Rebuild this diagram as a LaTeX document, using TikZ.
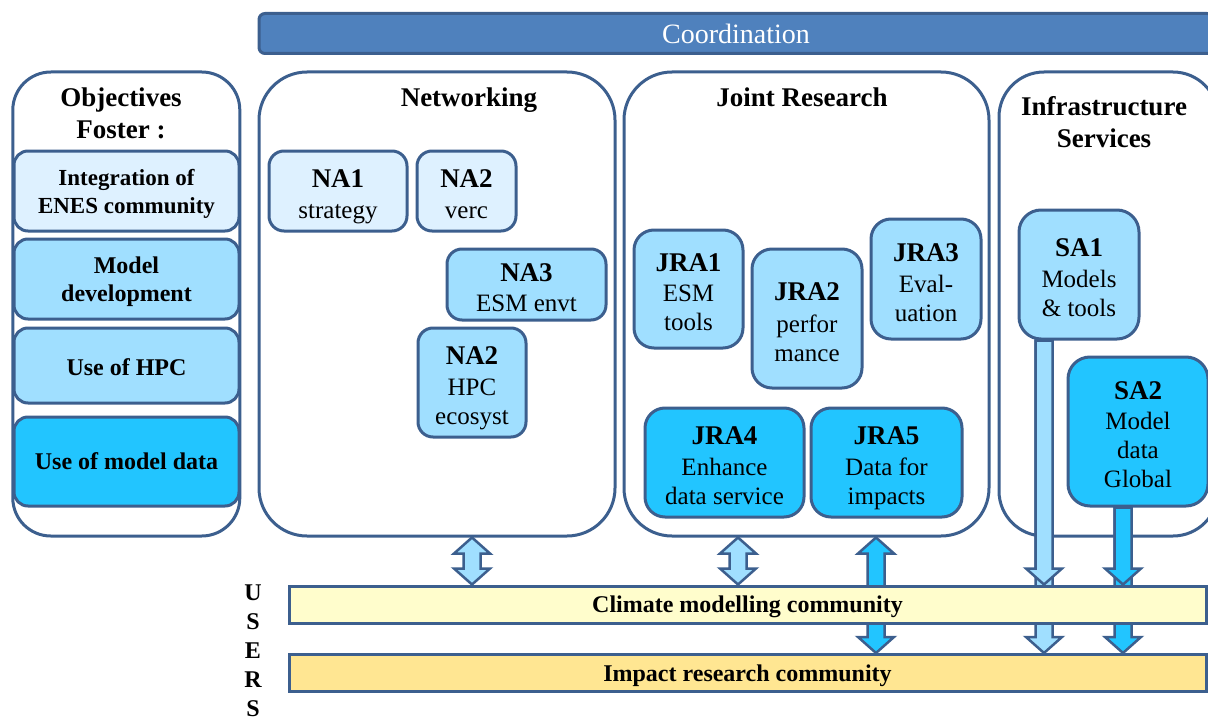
\documentclass[tikz,border=0pt]{standalone}
\usepackage{fontspec}
\setmainfont{Liberation Serif}
\usetikzlibrary{calc}

\definecolor{bordc}{RGB}{60,95,142}
\definecolor{coordfill}{RGB}{79,129,189}
\definecolor{paleblue}{RGB}{222,241,255}
\definecolor{lightblue}{RGB}{160,223,255}
\definecolor{brightblue}{RGB}{34,197,255}
\definecolor{climfill}{RGB}{255,253,204}
\definecolor{impfill}{RGB}{255,230,146}

% bold first line inside a tile (the strut lowers the text block a little)
\newcommand\lb[1]{{\fontsize{27}{29}\selectfont\bfseries\rule{0pt}{24pt}#1}}

% vertical block arrow with heads at both ends
\newcommand\dblarrow[3]{%
  \draw[blockline, fill=#1] let \p1=#2, \p2=#3 in
    (\x1,\y1) -- (\x1+18pt,\y1-16pt) -- (\x1+8.5pt,\y1-16pt)
    -- (\x1+8.5pt,\y2+16pt) -- (\x1+18pt,\y2+16pt) -- (\x1,\y2)
    -- (\x1-18pt,\y2+16pt) -- (\x1-8.5pt,\y2+16pt)
    -- (\x1-8.5pt,\y1-16pt) -- (\x1-18pt,\y1-16pt) -- cycle;}
% vertical block arrow pointing down
\newcommand\downblock[3]{%
  \draw[blockline, fill=#1] let \p1=#2, \p2=#3 in
    (\x1-8.5pt,\y1) -- (\x1+8.5pt,\y1)
    -- (\x1+8.5pt,\y2+16pt) -- (\x1+18pt,\y2+16pt) -- (\x1,\y2)
    -- (\x1-18pt,\y2+16pt) -- (\x1-8.5pt,\y2+16pt) -- cycle;}

\tikzset{
  frame/.style={draw=bordc, line width=3pt, fill=white, rounded corners=48pt,
    inner sep=0pt},
  title/.style={align=center, inner sep=0pt, text depth=0pt,
    font=\fontsize{27}{32}\selectfont\bfseries},
  tile/.style={draw=bordc, line width=3pt, rounded corners=15pt, align=center,
    inner sep=0pt, text depth=0pt, font=\fontsize{25}{29}\selectfont},
  bigtile/.style={tile, rounded corners=20pt},
  goal/.style={draw=bordc, line width=3pt, rounded corners=14pt, align=center,
    inner sep=0pt, text depth=0pt, minimum width=225pt,
    font=\fontsize{24}{28}\selectfont\bfseries},
  bar/.style={draw=bordc, line width=3pt, inner sep=0pt, text depth=0pt,
    minimum width=917pt, minimum height=37pt,
    font=\fontsize{24}{28}\selectfont\bfseries},
  blockline/.style={draw=bordc, line width=2.5pt, line join=miter},
}

\begin{document}
\begin{tikzpicture}[x=1pt, y=-1pt]
\useasboundingbox (0,0) rectangle (1208,717);
\clip (0,0) rectangle (1208,717);

% coordination banner
\node[draw=bordc, line width=3pt, fill=coordfill, rounded corners=6pt,
  minimum width=954pt, minimum height=40pt, inner sep=0pt, text=white,
  font=\fontsize{28}{32}\selectfont] (coord) at (736,33.5) {Coordination};

% column frames
\node[frame, rounded corners=38pt, minimum width=227pt, minimum height=464pt]
  (obj) at (126.3,304) {};
\node[frame, minimum width=356pt, minimum height=464pt] (net) at (437,304) {};
\node[frame, minimum width=365pt, minimum height=464pt] (jra) at (806.5,304) {};
\node[frame, rounded corners=45pt, minimum width=219pt, minimum height=464pt]
  (infra) at (1108.5,304) {};

% column titles
\node[title] (objt) at (121,113) {Objectives\\Foster :};
\node[title] (nett) at (469,97) {Networking};
\node[title] (jrat) at (802,97) {Joint Research};
\node[title] (infrat) at (1104,122) {Infrastructure\\Services};

% objectives
\node[goal, fill=paleblue, minimum height=80pt,
  font=\fontsize{23}{28}\selectfont\bfseries] (goal1) at (126.5,191)
  {Integration of\\ENES community};
\node[goal, fill=lightblue, minimum height=80pt] (goal2) at (126.5,279)
  {Model\\development};
\node[goal, fill=lightblue, minimum height=75pt] (goal3) at (126.5,365.5)
  {\rule{0pt}{20pt}Use of HPC};
\node[goal, fill=brightblue, minimum height=89pt] (goal4) at (126.5,461.5)
  {Use of model data};

% networking activities
\node[tile, fill=paleblue, minimum width=138pt, minimum height=80pt]
  (na1) at (338,191) {\lb{NA1}\\[1.5pt]strategy};
\node[tile, fill=paleblue, minimum width=99pt, minimum height=80pt]
  (na2) at (466.5,191) {\lb{NA2}\\[1.5pt]verc};
\node[tile, fill=lightblue, minimum width=159pt, minimum height=71pt]
  (na3) at (526.5,284.5) {\lb{NA3}\\[1.5pt]ESM envt};
\node[tile, fill=lightblue, minimum width=108pt, minimum height=109pt]
  (na2b) at (472,382.5) {\lb{NA2}\\[1.5pt]HPC\\ecosyst};

% joint research activities
\node[bigtile, fill=lightblue, minimum width=109pt, minimum height=118pt]
  (jra1) at (688.5,289) {\lb{JRA1}\\[1.5pt]ESM\\tools};
\node[bigtile, fill=lightblue, minimum width=110pt, minimum height=139pt]
  (jra2) at (807,318.5) {\lb{JRA2}\\[3pt]perfor\\mance};
\node[bigtile, fill=lightblue, minimum width=110pt, minimum height=120pt]
  (jra3) at (926,279) {\lb{JRA3}\\[2pt]Eval-\\uation};
\node[bigtile, fill=brightblue, minimum width=159pt, minimum height=109pt]
  (jra4) at (724.5,462.5) {\lb{JRA4}\\[1.5pt]Enhance\\data service};
\node[bigtile, fill=brightblue, minimum width=151pt, minimum height=109pt]
  (jra5) at (886.5,462.5) {\lb{JRA5}\\[1.5pt]Data for\\impacts};

% service activities
\node[bigtile, rounded corners=22pt, fill=lightblue, minimum width=120pt,
  minimum height=129pt] (sa1) at (1079,274.5) {\lb{SA1}\\[1.5pt]Models\\\& tools};
\node[bigtile, rounded corners=22pt, fill=brightblue, minimum width=140pt,
  minimum height=149pt] (sa2) at (1138,431.5) {\lb{SA2}\\[1.5pt]Model\\data\\Global};

% user communities and the links passing behind the upper bar
\node[bar, fill=impfill] (impact) at (747.5,673) {Impact research community};
\dblarrow{brightblue}{(876,0|-jra.south)}{(876,0|-impact.north)}
\downblock{lightblue}{(1044,0|-sa1.south)}{(1044,0|-impact.north)}
\downblock{brightblue}{(1123,0|-sa2.south)}{(1123,0|-impact.north)}

\node[bar, fill=climfill] (climate) at (747.5,604.5) {Climate modelling community};
\dblarrow{lightblue}{(472,0|-net.south)}{(472,0|-climate.north)}
\dblarrow{lightblue}{(738,0|-jra.south)}{(738,0|-climate.north)}
\downblock{lightblue}{(1044,0|-sa1.south)}{(1044,0|-climate.north)}
\downblock{brightblue}{(1123,0|-sa2.south)}{(1123,0|-climate.north)}

% vertical label
\node[align=center, inner sep=0pt, font=\fontsize{24}{29}\selectfont\bfseries]
  (users) at (253,651) {U\\S\\E\\R\\S};
\end{tikzpicture}
\end{document}
